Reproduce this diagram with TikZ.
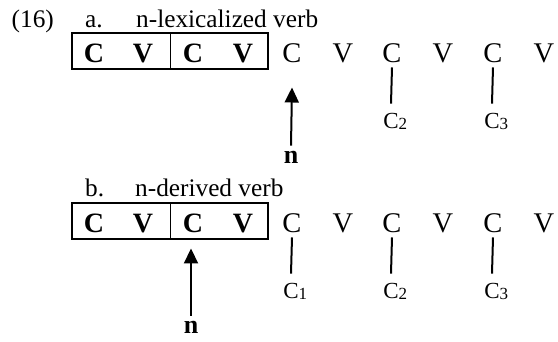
\documentclass[tikz,border=0pt]{standalone}
\usepackage{fontspec}
\setmainfont{Liberation Serif}
\usetikzlibrary{arrows.meta}
\begin{document}
\begin{tikzpicture}[x=1pt,y=-1pt,
  txt/.style={inner sep=0pt,anchor=base west,font=\fontsize{25.3}{28}\selectfont},
  seg/.style={inner sep=0pt,anchor=base,font=\fontsize{28.5}{30}\selectfont},
  bseg/.style={inner sep=0pt,anchor=base,font=\fontsize{28}{30}\selectfont\bfseries},
  lab/.style={inner sep=0pt,anchor=base,font=\fontsize{23}{26}\selectfont},
  nlab/.style={inner sep=0pt,anchor=base,font=\fontsize{26}{28}\selectfont\bfseries},
  boxline/.style={line width=2pt},
  divline/.style={line width=1pt},
  stem/.style={line width=2pt},
  arr/.style={line width=2pt,-{Triangle[width=14pt,length=15pt]}}
]
\useasboundingbox (0,0) rectangle (558,341);
\newcommand{\sub}[1]{\rlap{\raisebox{-1.5pt}{\fontsize{17}{17}\selectfont #1}}}
% ---------- (a)
\node[txt] (num) at (11.5,27) {(16)};
\node[txt] (la) at (85,27) {a.};
\node[txt] (ta) at (136,27) {n-lexicalized verb};
\draw[boxline] (72,32.5) rectangle (268,69);
\draw[divline] (170.7,32.5) -- (170.7,69);
\node[bseg] (a1) at (94,62) {C};
\node[bseg] (a2) at (143,62) {V};
\node[bseg] (a3) at (193,62) {C};
\node[bseg] (a4) at (243,62) {V};
\node[seg] (a5) at (292,62) {C};
\node[seg] (a6) at (343,62) {V};
\node[seg] (a7) at (392,62) {C};
\node[seg] (a8) at (443,62) {V};
\node[seg] (a9) at (493,62) {C};
\node[seg] (a10) at (544,62) {V};
\node[lab] (ca2) at (391,128) {C\sub{2}};
\node[lab] (ca3) at (492,128) {C\sub{3}};
\draw[stem] ([yshift=-5pt]a7.south) -- ([yshift=9pt]ca2.north);
\draw[stem] ([yshift=-5pt]a9.south) -- ([yshift=9pt]ca3.north);
\node[nlab] (na) at (291,163) {n};
\draw[arr] ([yshift=5pt]na.north) -- ([yshift=-25pt]a5.south);
% ---------- (b)
\node[txt] (lb) at (85,196.5) {b.};
\node[txt] (tb) at (135,196.5) {n-derived verb};
\draw[boxline] (72,202.5) rectangle (268,239);
\draw[divline] (170.7,202.5) -- (170.7,239);
\node[bseg] (b1) at (94,232) {C};
\node[bseg] (b2) at (143,232) {V};
\node[bseg] (b3) at (193,232) {C};
\node[bseg] (b4) at (243,232) {V};
\node[seg] (b5) at (292,232) {C};
\node[seg] (b6) at (343,232) {V};
\node[seg] (b7) at (392,232) {C};
\node[seg] (b8) at (443,232) {V};
\node[seg] (b9) at (493,232) {C};
\node[seg] (b10) at (544,232) {V};
\node[lab] (cb1) at (291,298) {C\sub{1}};
\node[lab] (cb2) at (391,298) {C\sub{2}};
\node[lab] (cb3) at (492,298) {C\sub{3}};
\draw[stem] ([yshift=-5pt]b5.south) -- ([yshift=9pt]cb1.north);
\draw[stem] ([yshift=-5pt]b7.south) -- ([yshift=9pt]cb2.north);
\draw[stem] ([yshift=-5pt]b9.south) -- ([yshift=9pt]cb3.north);
\node[nlab] (nb) at (191,333) {n};
\draw[arr] ([yshift=5pt]nb.north) -- ([yshift=-16pt]b3.south -| nb.north);
\end{tikzpicture}
\end{document}
